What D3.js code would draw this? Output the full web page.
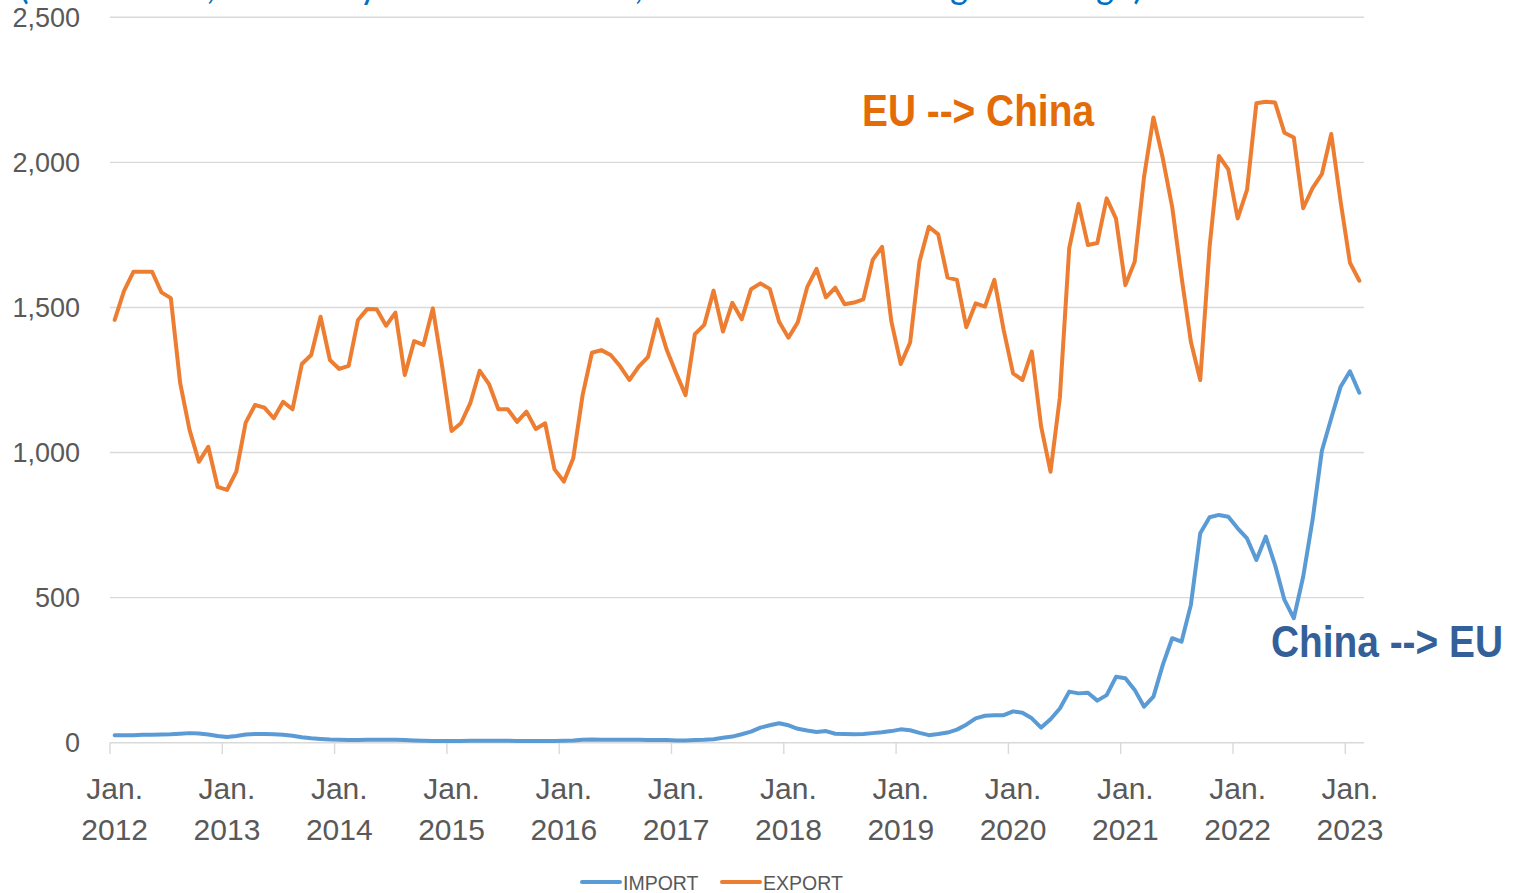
<!DOCTYPE html>
<html>
<head>
<meta charset="utf-8">
<script src="https://cdn.jsdelivr.net/npm/d3@7"></script>
<style>
  body { margin: 0; background: #fff; }
  svg { display: block; font-family: "Liberation Sans", Arial, sans-serif; }
</style>
</head>
<body>
<svg id="chart" width="1521" height="893"></svg>
<script>
// monthly values, Jan. 2012 .. Feb. 2023
const exportValues = [
  1457, 1557, 1623, 1623, 1623, 1552, 1532, 1239, 1078, 968, 1020, 882,
  871, 934, 1103, 1164, 1155, 1118, 1175, 1149, 1305, 1336, 1468, 1319,
  1288, 1299, 1457, 1495, 1494, 1437, 1482, 1267, 1384, 1371, 1497, 1296,
  1074, 1101, 1170, 1282, 1236, 1149, 1149, 1106, 1141, 1081, 1101, 942,
  900, 980, 1198, 1344, 1353, 1336, 1298, 1250, 1296, 1330, 1459, 1353,
  1273, 1198, 1408, 1440, 1558, 1417, 1516, 1459, 1563, 1583, 1564, 1451,
  1396, 1449, 1570, 1633, 1535, 1568, 1511, 1517, 1528, 1664, 1709, 1451,
  1305, 1379, 1658, 1778, 1752, 1603, 1595, 1432, 1514, 1503, 1595, 1422,
  1273, 1250, 1348, 1089, 934, 1190, 1704, 1857, 1715, 1722, 1876, 1806,
  1577, 1658, 1951, 2155, 2014, 1847, 1606, 1382, 1250, 1709, 2022, 1976,
  1807, 1905, 2204, 2209, 2206, 2102, 2086, 1842, 1911, 1960, 2098, 1865,
  1654, 1592
];
const importValues = [
  26, 26, 26, 27, 27, 28, 29, 31, 33, 32, 28, 23,
  20, 23, 28, 30, 30, 29, 27, 24, 19, 15, 13, 11,
  10, 9, 9, 10, 10, 10, 10, 9, 8, 7, 6, 6,
  6, 6, 7, 7, 7, 7, 7, 6, 6, 6, 6, 6,
  7, 8, 10, 11, 10, 10, 10, 10, 10, 9, 9, 9,
  8, 8, 9, 10, 12, 17, 21, 29, 38, 52, 60, 67,
  60, 48, 42, 37, 40, 31, 30, 29, 30, 33, 36, 40,
  46, 43, 34, 26, 30, 35, 45, 62, 84, 93, 95, 95,
  108, 103, 84, 52, 81, 118, 176, 170, 172, 145, 164, 227,
  222, 182, 124, 159, 268, 360, 348, 475, 722, 777, 785, 779,
  739, 704, 630, 710, 612, 492, 429, 572, 767, 1006, 1118, 1227,
  1280, 1206
];
const months = d3.timeMonth.range(new Date(2012, 0, 1), new Date(2023, 2, 1));
const yTicks = [0, 500, 1000, 1500, 2000, 2500];
const seriesNames = ["IMPORT", "EXPORT"];
const seriesColors = ["#5B9BD5", "#ED7D31"];

const svg = d3.select("#chart");

const x = d3.scaleBand().domain(d3.range(months.length)).range([110, 1364]);
const y = d3.scaleLinear().domain([0, 2500]).range([742.7, 17.3]);
const cx = i => x(i) + x.bandwidth() / 2;

// partly hidden title above the plot
const title = svg.append("text")
    .attr("y", -1)
    .attr("fill", "#0070C0")
    .style("font-family", "Carlito, 'Liberation Sans', sans-serif")
    .style("font-size", "38px");
[["(EUR million", 18], [", monthl", 206], ["y trade data", 360], [", 3-month movin", 634], ["g avera", 950], ["ge)", 1096]]
  .forEach(([t, px]) => title.append("tspan").attr("x", px).text(t));

// gridlines
svg.append("g")
  .selectAll("line")
  .data(yTicks)
  .join("line")
    .attr("x1", 110).attr("x2", 1364)
    .attr("y1", d => y(d)).attr("y2", d => y(d))
    .attr("stroke", "#D9D9D9")
    .attr("stroke-width", 1.4);

// y labels
svg.append("g")
  .selectAll("text")
  .data(yTicks)
  .join("text")
    .attr("x", 80)
    .attr("y", d => y(d) + 9.5)
    .attr("text-anchor", "end")
    .attr("fill", "#595959")
    .style("font-size", "27px")
    .text(d => d3.format(",")(d));

// x ticks and labels (every January)
const janIdx = d3.range(0, months.length, 12);
svg.append("g")
  .selectAll("line")
  .data(janIdx)
  .join("line")
    .attr("x1", d => x(d)).attr("x2", d => x(d))
    .attr("y1", 742.7).attr("y2", 754)
    .attr("stroke", "#D9D9D9")
    .attr("stroke-width", 1.4);

const xl = svg.append("g")
  .selectAll("text")
  .data(janIdx)
  .join("text")
    .attr("text-anchor", "middle")
    .attr("fill", "#595959")
    .style("font-size", "30px");
xl.append("tspan").attr("x", d => cx(d)).attr("y", 799).text("Jan.");
xl.append("tspan").attr("x", d => cx(d)).attr("y", 840).text(d => months[d].getFullYear());

// lines
const line = d3.line().x((d, i) => cx(i)).y(d => y(d));
[importValues, exportValues].forEach((vals, k) => {
  svg.append("path")
    .datum(vals)
    .attr("fill", "none")
    .attr("stroke", seriesColors[k])
    .attr("stroke-width", 4)
    .attr("stroke-linejoin", "round")
    .attr("stroke-linecap", "round")
    .attr("d", line);
});

// annotations
svg.append("text")
    .attr("x", 862).attr("y", 126)
    .attr("fill", "#E36C09")
    .style("font-size", "45px").style("font-weight", "bold")
    .attr("textLength", 232).attr("lengthAdjust", "spacingAndGlyphs")
    .text("EU --> China");
svg.append("text")
    .attr("x", 1271).attr("y", 657)
    .attr("fill", "#34609A")
    .style("font-size", "45px").style("font-weight", "bold")
    .attr("textLength", 232).attr("lengthAdjust", "spacingAndGlyphs")
    .text("China --> EU");

// legend
const leg = svg.append("g")
  .selectAll("g")
  .data(seriesNames)
  .join("g")
    .attr("transform", (d, i) => `translate(${582 + i * 140},882)`);
leg.append("line")
    .attr("x1", 0).attr("x2", 38)
    .attr("stroke", (d, i) => seriesColors[i])
    .attr("stroke-width", 4)
    .attr("stroke-linecap", "round");
leg.append("text")
    .attr("x", 41).attr("y", 8)
    .attr("fill", "#595959")
    .style("font-size", "19.5px")
    .text(d => d);
</script>
</body>
</html>
